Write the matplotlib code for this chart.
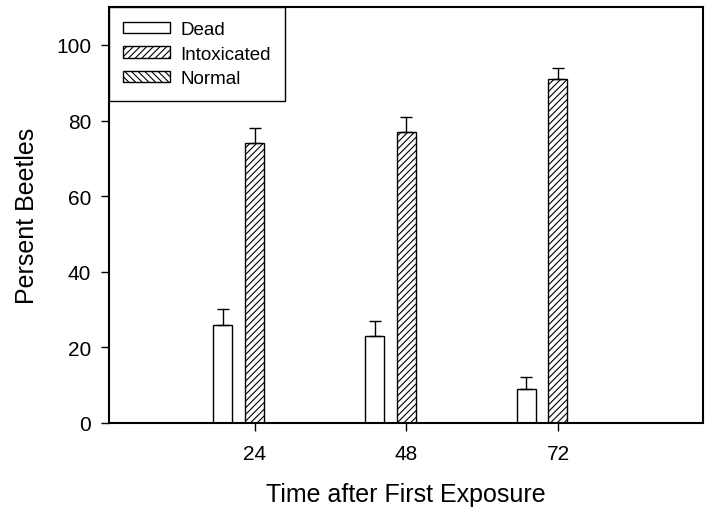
import numpy as np
from matplotlib import pyplot as plt

plt.rcParams['font.family'] = ['Liberation Sans', 'DejaVu Sans']
plt.rcParams['hatch.linewidth'] = 0.8

times = [24, 48, 72]
dead = [26, 23, 9]
dead_err = [4, 4, 3]
intox = [74, 77, 91]
intox_err = [4, 4, 3]
normal = [0, 0, 0]
normal_err = [0, 0, 0]

fig, ax = plt.subplots(figsize=(7.09, 5.10), dpi=100)
fig.subplots_adjust(left=0.154, right=0.992, top=0.984, bottom=0.169)

x = np.array(times, dtype=float)
w = 3.0
err_kw = dict(ecolor='black', elinewidth=1, capsize=4.5, capthick=1)

ax.bar(x - 5, dead, w, color='white', edgecolor='black', linewidth=1,
       yerr=[np.zeros(3), dead_err], error_kw=err_kw, label='Dead')
ax.bar(x, intox, w, color='white', edgecolor='black', linewidth=1, hatch='/////',
       yerr=[np.zeros(3), intox_err], error_kw=err_kw, label='Intoxicated')
ax.bar(x + 5, normal, w, color='white', edgecolor='black', linewidth=1, hatch='\\\\\\\\\\',
       label='Normal')

ax.set_xlim(1, 95)
ax.set_ylim(0, 110)
ax.set_xticks(times)
ax.set_yticks([0, 20, 40, 60, 80, 100])
ax.tick_params(direction='out', length=6, width=1, labelsize=15, top=False, right=False)
ax.tick_params(axis='x', pad=9)
ax.tick_params(axis='y', pad=7)
for s in ax.spines.values():
    s.set_linewidth(1.5)

ax.set_xlabel('Time after First Exposure', fontsize=18, labelpad=14)
ax.set_ylabel('Persent Beetles', fontsize=18, labelpad=12)

leg = ax.legend(loc='upper left', borderaxespad=0, fontsize=13.5, frameon=True,
                fancybox=False, edgecolor='black', handlelength=2.5, handleheight=0.55,
                labelspacing=0.4, borderpad=0.75, handletextpad=0.55)
leg.get_frame().set_linewidth(1)
leg.get_frame().set_alpha(1)

plt.savefig('out.png')
